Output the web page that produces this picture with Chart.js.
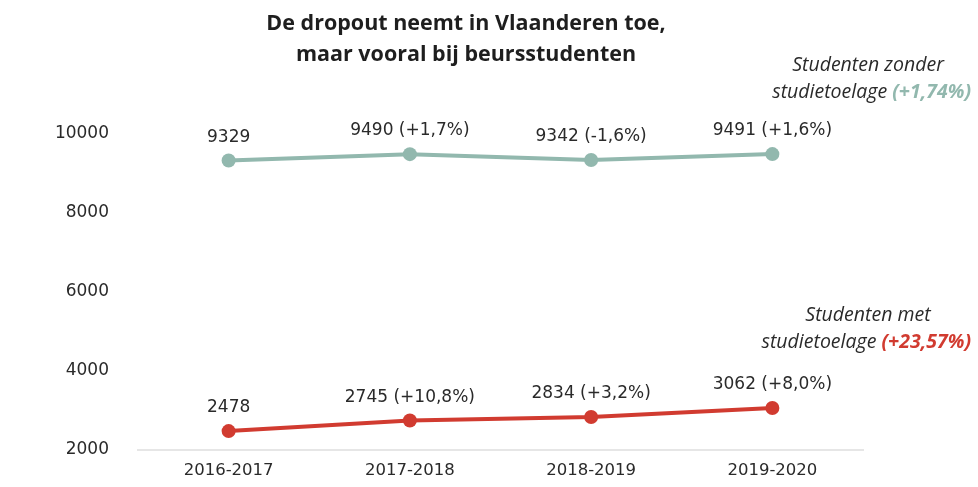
<!DOCTYPE html>
<html>
<head>
<meta charset="utf-8">
<script src="https://cdn.jsdelivr.net/npm/chart.js@4.4.0/dist/chart.umd.min.js"></script>
<style>
  html, body { margin: 0; padding: 0; background: #fff; }
  #wrap { width: 978px; height: 487px; position: relative; }
</style>
</head>
<body>
<div id="wrap"><canvas id="chart" width="978" height="487"></canvas></div>
<script>
// Data
const years = ['2016-2017', '2017-2018', '2018-2019', '2019-2020'];
const zonderBeurs = [9329, 9490, 9342, 9491];
const zonderChange = ['', '(+1,7%)', '(-1,6%)', '(+1,6%)'];
const metBeurs = [2478, 2745, 2834, 3062];
const metChange = ['', '(+10,8%)', '(+3,2%)', '(+8,0%)'];
const yTicks = [2000, 4000, 6000, 8000, 10000];

const GREEN = '#92b8ae';
const RED = '#d13b30';
const TEXT = '#2a2a2a';

// Titel, waardelabels en reeksnamen
const labelsPlugin = {
    id: 'labels',
    afterDatasetsDraw(chart) {
        const ctx = chart.ctx;
        ctx.save();

        // Titel
        ctx.fillStyle = '#1e1e1e';
        ctx.font = 'bold 21.5px "Open Sans", sans-serif';
        ctx.textAlign = 'center';
        ctx.textBaseline = 'middle';
        ctx.fillText('De dropout neemt in Vlaanderen toe,', 466, 24);
        ctx.fillText('maar vooral bij beursstudenten', 466, 55);

        // Waardelabels boven de punten
        ctx.font = '17px "DejaVu Sans", sans-serif';
        ctx.fillStyle = TEXT;
        ctx.textBaseline = 'alphabetic';
        const changes = [zonderChange, metChange];
        chart.data.datasets.forEach((ds, i) => {
            chart.getDatasetMeta(i).data.forEach((pt, j) => {
                const txt = ds.data[j] + (changes[i][j] ? ' ' + changes[i][j] : '');
                ctx.fillText(txt, pt.x, pt.y - 19);
            });
        });

        // Reeksnamen rechts
        function seriesName(line1, line2, pct, color, y) {
            ctx.font = 'italic 19.5px "Open Sans", sans-serif';
            ctx.fillStyle = TEXT;
            ctx.textAlign = 'center';
            ctx.fillText(line1, 868, y);
            ctx.font = 'italic bold 19.5px "Open Sans", sans-serif';
            const pw = ctx.measureText(pct).width;
            ctx.textAlign = 'right';
            ctx.fillStyle = color;
            ctx.fillText(pct, 971, y + 27);
            ctx.font = 'italic 19.5px "Open Sans", sans-serif';
            ctx.fillStyle = TEXT;
            ctx.fillText(line2 + ' ', 971 - pw, y + 27);
        }
        seriesName('Studenten zonder', 'studietoelage', '(+1,74%)', GREEN, 71);
        seriesName('Studenten met', 'studietoelage', '(+23,57%)', RED, 321);

        ctx.restore();
    }
};

new Chart(document.getElementById('chart'), {
    type: 'line',
    data: {
        labels: years,
        datasets: [
            {
                label: 'Studenten zonder studietoelage',
                data: zonderBeurs,
                borderColor: GREEN,
                backgroundColor: GREEN,
                borderWidth: 4,
                pointRadius: 7,
                pointHoverRadius: 7,
                pointBorderWidth: 0,
                tension: 0,
                clip: false
            },
            {
                label: 'Studenten met studietoelage',
                data: metBeurs,
                borderColor: RED,
                backgroundColor: RED,
                borderWidth: 4,
                pointRadius: 7,
                pointHoverRadius: 7,
                pointBorderWidth: 0,
                tension: 0,
                clip: false
            }
        ]
    },
    options: {
        responsive: false,
        animation: false,
        layout: { padding: { top: 134, right: 115, bottom: 0, left: 0 } },
        plugins: {
            legend: { display: false },
            tooltip: { enabled: false },
            title: { display: false }
        },
        scales: {
            x: {
                offset: true,
                grid: { display: false },
                border: { display: true, color: '#e6e6e6', width: 2 },
                ticks: { color: TEXT, font: { family: 'DejaVu Sans', size: 16.5 }, padding: 3 },
                afterFit: (s) => { s.height = 37; }
            },
            y: {
                min: 2000,
                max: 10000,
                afterBuildTicks: (s) => { s.ticks = yTicks.map(v => ({ value: v })); },
                grid: { display: false },
                border: { display: false },
                ticks: {
                    color: TEXT,
                    font: { family: 'DejaVu Sans', size: 17 },
                    padding: 21,
                    callback: (v) => String(v)
                },
                afterFit: (s) => { s.width = 138; }
            }
        }
    },
    plugins: [labelsPlugin]
});
</script>
</body>
</html>
